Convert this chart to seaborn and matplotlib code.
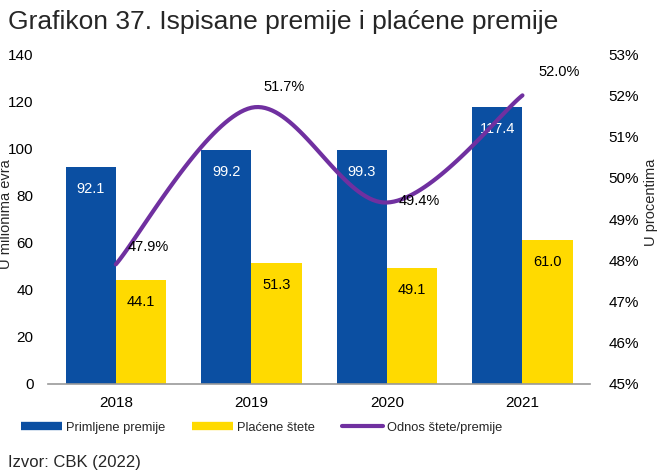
import numpy as np
import pandas as pd
import matplotlib
matplotlib.use("Agg")
import matplotlib.pyplot as plt
import seaborn as sns
from matplotlib.lines import Line2D
from matplotlib import font_manager

years = ["2018", "2019", "2020", "2021"]
premiums = [92.1, 99.2, 99.3, 117.4]        # Primljene premije
claims = [44.1, 51.3, 49.1, 61.0]           # Plaćene štete
ratio = [47.9, 51.7, 49.4, 52.0]            # Odnos štete/premije (%)

series_names = ["Primljene premije", "Plaćene štete"]
line_name = "Odnos štete/premije"
left_ticks = [0, 20, 40, 60, 80, 100, 120, 140]
right_ticks = [45, 46, 47, 48, 49, 50, 51, 52, 53]

BLUE = "#0B4FA2"
YELLOW = "#FFDA00"
PURPLE = "#7030A0"

sns.set_theme(style="white")
plt.rcParams["font.family"] = ["Liberation Sans", "DejaVu Sans"]

# narrow face for the legend when it is available
installed = {f.name for f in font_manager.fontManager.ttflist}
if "Liberation Sans Narrow" in installed:
    legend_font = {"family": "Liberation Sans Narrow", "size": 11}
else:
    legend_font = {"family": "Liberation Sans", "size": 9.3}

df = pd.DataFrame({
    "year": years * 2,
    "value": premiums + claims,
    "series": [series_names[0]] * 4 + [series_names[1]] * 4,
})

fig = plt.figure(figsize=(6.58, 4.71), dpi=100)
ax = fig.add_axes([0.073, 0.185, 0.824, 0.70])

sns.barplot(data=df, x="year", y="value", hue="series", order=years,
            hue_order=series_names, palette=[BLUE, YELLOW], width=0.74,
            saturation=1, linewidth=0, ax=ax, legend=False)

ax.set_ylim(0, 140)
ax.set_xlim(-0.5, 3.5)
ax.set_yticks(left_ticks)
ax.tick_params(axis="y", labelsize=11, colors="black", length=0, pad=10.5)
ax.tick_params(axis="x", labelsize=11, colors="black", length=0, pad=8.5)
ax.set_xlabel("")
ax.set_ylabel("")
for s in ["top", "right", "left"]:
    ax.spines[s].set_visible(False)
ax.spines["bottom"].set_color("#999999")
ax.spines["bottom"].set_linewidth(1.2)

# value labels inside the bars
for container, vals, col in zip(ax.containers, [premiums, claims], ["white", "black"]):
    for bar, v in zip(container, vals):
        ax.text(bar.get_x() + bar.get_width() / 2, v - 9.3, f"{v:.1f}",
                ha="center", va="center", color=col, fontsize=10.5)

# ratio on the secondary axis, drawn as a smoothed curve
ax2 = ax.twinx()
ax2.set_ylim(45, 53)
ax2.set_yticks(right_ticks)
ax2.set_yticklabels([f"{t}%" for t in right_ticks])
ax2.tick_params(axis="y", labelsize=11, colors="black", length=0, pad=13)
for s in ax2.spines.values():
    s.set_visible(False)
ax2.set_ylabel("")
ax2.grid(False)

xs = np.arange(len(years), dtype=float)
ys = np.array(ratio, dtype=float)
P = np.column_stack([xs, ys])
Pext = np.vstack([P[0], P, P[-1]])
curve = []
t = np.linspace(0, 1, 40)[:, None]
for i in range(len(P) - 1):
    p0, p1, p2, p3 = Pext[i], Pext[i + 1], Pext[i + 2], Pext[i + 3]
    c1 = p1 + (p2 - p0) / 6
    c2 = p2 - (p3 - p1) / 6
    seg = ((1 - t) ** 3) * p1 + 3 * ((1 - t) ** 2) * t * c1 + 3 * (1 - t) * t ** 2 * c2 + t ** 3 * p2
    curve.append(seg if i == 0 else seg[1:])
curve = np.vstack(curve)
curve_df = pd.DataFrame({"x": curve[:, 0], "y": curve[:, 1]})
sns.lineplot(data=curve_df, x="x", y="y", color=PURPLE, linewidth=3.0,
             sort=False, ax=ax2, estimator=None)
ax2.set_xlabel("")
ax2.set_ylabel("")

offsets = [(0.236, 0.41), (0.24, 0.5), (0.24, 0.04), (0.27, 0.56)]
for x, v, (dx, dy) in zip(xs, ratio, offsets):
    ax2.text(x + dx, v + dy, f"{v:.1f}%", ha="center", va="center",
             color="black", fontsize=10.5)

# axis titles
fig.text(6.5 / 658, 1 - 214 / 471, "U milionima evra", rotation=90,
         fontsize=10.5, ha="center", va="center")
fig.text(651.5 / 658, 1 - 202 / 471, "U procentima", rotation=90,
         fontsize=10.5, ha="center", va="center")

# legend below the axes
handles = [Line2D([], [], color=BLUE, linewidth=6, solid_capstyle="butt"),
           Line2D([], [], color=YELLOW, linewidth=6, solid_capstyle="butt"),
           Line2D([], [], color=PURPLE, linewidth=3, solid_capstyle="round")]
fig.legend(handles, series_names + [line_name], loc="center left",
           bbox_to_anchor=(0.032, 0.0913), ncol=3, frameon=False, prop=legend_font,
           handlelength=41 / (legend_font["size"] * 100 / 72),
           handletextpad=0.3, columnspacing=27 / (legend_font["size"] * 100 / 72),
           borderpad=0, borderaxespad=0)

fig.text(8 / 658, 1 - 22 / 471, "Grafikon 37. Ispisane premije i plaćene premije",
         fontsize=19, ha="left", va="center")
fig.text(8 / 658, 1 - 462 / 471, "Izvor: CBK (2022)", fontsize=12, ha="left", va="center")

fig.savefig("out.png", dpi=100)
